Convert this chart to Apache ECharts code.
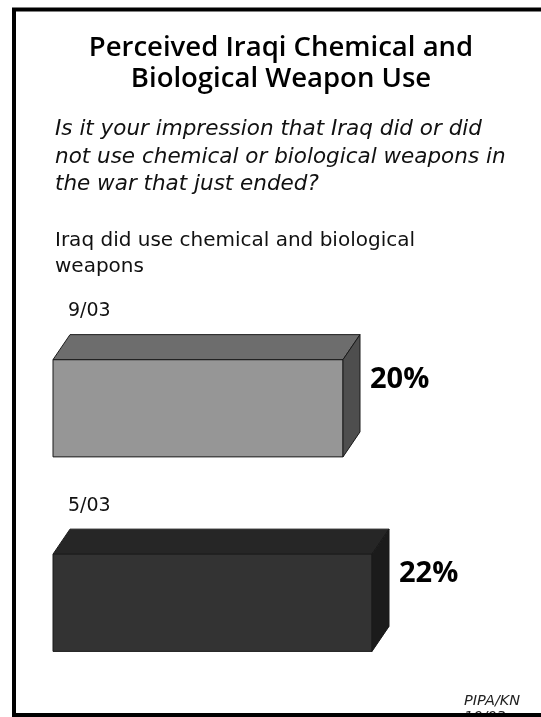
<!DOCTYPE html>
<html>
<head>
<meta charset="utf-8">
<script src="https://cdn.jsdelivr.net/npm/echarts@6/dist/echarts.min.js"></script>
<style>
html,body{margin:0;padding:0;background:#fff;}
#main{width:541px;height:717px;}
</style>
</head>
<body>
<div id="main"></div>
<script>
// ---- data ----
const categories = ['9/03', '5/03'];
const values = [20, 22];
const valueLabels = ['20%', '22%'];
const titleText = 'Perceived Iraqi Chemical and\nBiological Weapon Use';
const questionText = 'Is it your impression that Iraq did or did\nnot use chemical or biological weapons in\nthe war that just ended?';
const groupText = 'Iraq did use chemical and biological\nweapons';
const sourceText = 'PIPA/KN\n10/03';

// ---- styles ----
const palettes = [
  { front: '#969696', top: '#6d6d6d', side: '#4e4e4e' },
  { front: '#333333', top: '#262626', side: '#1b1b1b' }
];
const FONT = '"DejaVu Sans", "Open Sans", sans-serif';
const HEAD_FONT = '"Open Sans", "DejaVu Sans", sans-serif';
const DX = 17, DY = 25;

const chart = echarts.init(document.getElementById('main'), null, { renderer: 'canvas' });

function renderItem(params, api) {
  const idx = api.value(0);
  const val = api.value(1);
  const p0 = api.coord([0, idx]);
  const p1 = api.coord([val, idx]);
  const band = api.size([0, 1])[1];
  const h = band * 0.5;
  const x0 = p0[0], x1 = p1[0], cy = p0[1];
  const top = cy - h / 2, bottom = cy + h / 2;
  const pal = palettes[idx];
  const stroke = { stroke: '#1a1a1a', lineWidth: 1 };
  return {
    type: 'group',
    children: [
      { type: 'rect', shape: { x: x0, y: top, width: x1 - x0, height: h },
        style: Object.assign({ fill: pal.front }, stroke) },
      { type: 'polygon', shape: { points: [[x0, top], [x0 + DX, top - DY], [x1 + DX, top - DY], [x1, top]] },
        style: Object.assign({ fill: pal.top }, stroke) },
      { type: 'polygon', shape: { points: [[x1, top], [x1 + DX, top - DY], [x1 + DX, bottom - DY], [x1, bottom]] },
        style: Object.assign({ fill: pal.side }, stroke) },
      { type: 'text', style: { x: x0 + 15, y: top - DY - 14, text: categories[idx],
        font: '19px ' + FONT, fill: '#111', textAlign: 'left', textVerticalAlign: 'bottom' } },
      { type: 'text', style: { x: x1 + DX + 10, y: cy - 29, text: valueLabels[idx],
        font: 'bold 29px ' + HEAD_FONT, fill: '#000',
        textAlign: 'left', textVerticalAlign: 'middle' } }
    ]
  };
}

const option = {
  backgroundColor: '#fff',
  animation: false,
  title: [
    { text: titleText, left: 281, top: 33, textAlign: 'center', padding: 0,
      textStyle: { fontFamily: HEAD_FONT, fontSize: 27.5, fontWeight: 600, color: '#000', lineHeight: 31, align: 'center' } },
    { text: questionText, left: 55, top: 116, padding: 0,
      textStyle: { fontFamily: FONT, fontSize: 21.5, fontStyle: 'italic', fontWeight: 'normal', color: '#111', lineHeight: 27.5 } },
    { text: groupText, left: 55, top: 228, padding: 0,
      textStyle: { fontFamily: FONT, fontSize: 20, fontWeight: 'normal', color: '#111', lineHeight: 26 } },
    { text: sourceText, left: 464, top: 693, padding: 0,
      textStyle: { fontFamily: FONT, fontSize: 14.5, fontStyle: 'italic', fontWeight: 'normal', color: '#222', lineHeight: 16 } }
  ],
  grid: { left: 53, top: 311, width: 435, height: 389 },
  xAxis: { type: 'value', min: 0, max: 30, show: false },
  yAxis: { type: 'category', data: categories, inverse: true, show: false },
  series: [{
    type: 'custom',
    renderItem: renderItem,
    data: values.map((v, i) => [i, v]),
    encode: { x: 1, y: 0 },
    z: 2
  }],
  graphic: [
    { type: 'rect', z: 100, shape: { x: 14, y: 9.5, width: 600, height: 705.5 },
      style: { fill: 'none', stroke: '#000', lineWidth: 4 } }
  ]
};
chart.setOption(option);
</script>
</body>
</html>
